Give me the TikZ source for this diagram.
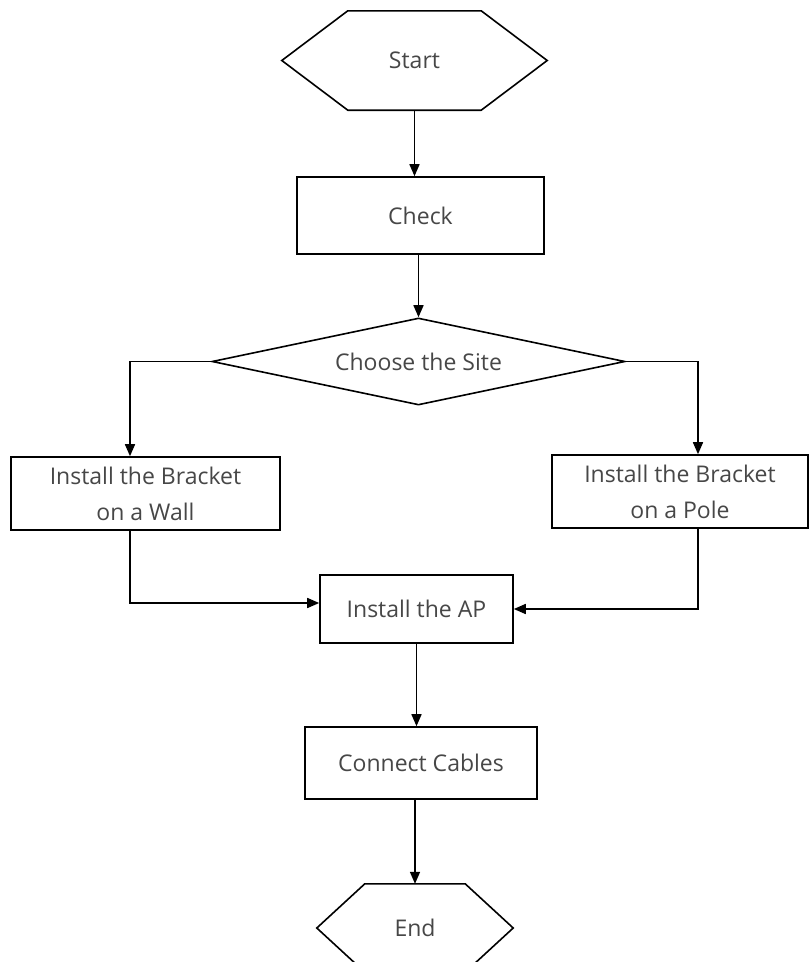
\documentclass[tikz,border=0pt]{standalone}
\usepackage{fontspec}
\setmainfont{Open Sans}
\usetikzlibrary{arrows.meta,shapes.geometric}

\tikzset{
    box/.style={draw, line width=1.6pt, inner sep=0pt, align=center, text=black!72},
    term/.style={inner sep=0pt, text=black!72},
    flow/.style={line width=1.6pt, -{Triangle[length=12pt,width=10pt]}}
}

\begin{document}
\begin{tikzpicture}[x=1pt, y=-1pt, font=\fontsize{23}{36}\selectfont]
    \clip (0,0) rectangle (811,962);
    \fill[white] (0,0) rectangle (811,962);

    % Terminals
    \node[term, minimum width=265pt, minimum height=99pt] (start) at (414.5,60.5) {Start};
    \draw[line width=1.6pt] (start.west) -- ([xshift=66pt]start.north west) -- ([xshift=-66pt]start.north east)
        -- (start.east) -- ([xshift=-66pt]start.south east) -- ([xshift=66pt]start.south west) -- cycle;
    \node[term, minimum width=196pt, minimum height=88pt] (end) at (415,928) {End};
    \draw[line width=1.6pt] (end.west) -- ([xshift=48pt]end.north west) -- ([xshift=-48pt]end.north east)
        -- (end.east) -- ([xshift=-48pt]end.south east) -- ([xshift=48pt]end.south west) -- cycle;

    % Steps
    \node[box, minimum width=247pt, minimum height=77pt] (check) at (420.5,215.5) {Check};
    \node[box, diamond, aspect=4.75, minimum width=413pt, minimum height=87pt] (site) at (418.5,361.5) {Choose the Site};
    \node[box, minimum width=269pt, minimum height=73pt] (wall) at (145.5,493.5) {Install the Bracket\\on a Wall};
    \node[box, minimum width=256pt, minimum height=73pt] (pole) at (680,491.5) {Install the Bracket\\on a Pole};
    \node[box, minimum width=193pt, minimum height=68pt] (ap) at (416.5,609) {Install the AP};
    \node[box, minimum width=232pt, minimum height=72pt] (cables) at (421,763) {Connect Cables};

    % Arrows
    \draw[flow] (start.south) -- (start.south |- check.north);
    \draw[flow] (site.north |- check.south) -- (site.north);
    \draw[flow] (site.west) -| ([xshift=-15.5pt]wall.north);
    \draw[flow] (site.east) -| ([xshift=18pt]pole.north);
    \draw[flow] ([xshift=-15.5pt]wall.south) |- ([yshift=6pt]ap.west);
    \draw[flow] ([xshift=18pt]pole.south) |- (ap.east);
    \draw[flow] (ap.south) -- (ap.south |- cables.north);
    \draw[flow] (end.north |- cables.south) -- (end.north);
\end{tikzpicture}
\end{document}
